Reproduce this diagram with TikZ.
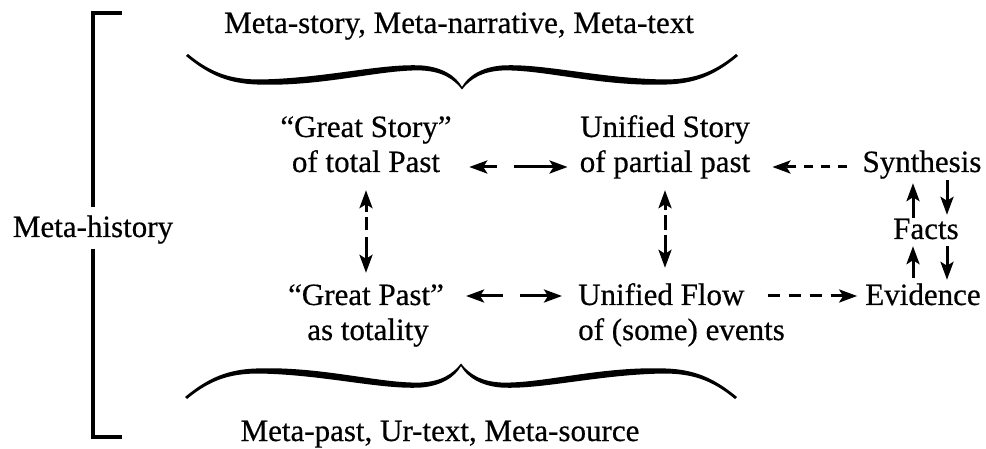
\documentclass[tikz,border=0pt]{standalone}
\usepackage{fontspec}
\setmainfont{Liberation Serif}[FakeBold=0.5]
\usetikzlibrary{arrows.meta}
\begin{document}
\begin{tikzpicture}[x=1pt,y=-1pt,
  lbl/.style={inner sep=0pt,text height=14pt,text depth=0pt,font=\fontsize{31}{35}\selectfont,anchor=base},
  lblw/.style={lbl,anchor=base west},
  darr/.style={line width=3pt},
  sarr/.style={line width=3pt},
  >={Stealth[length=18pt,width=13pt,inset=4pt]},
  halfbrace/.pic={\fill (-274,-34) .. controls (-250,-14) and (-230,-9) .. (-205,-8.5) .. controls (-140,-9) and (-80,-25) .. (-40,-22.5) .. controls (-20,-21) and (-6,-12) .. (0,-1) -- (0,1.5) .. controls (-8,-9) and (-20,-16.5) .. (-40,-17.5) .. controls (-80,-19) and (-140,-1) .. (-205,-3.5) .. controls (-232,-4.5) and (-252,-12) .. (-276,-32) -- cycle;}
]
\useasboundingbox[fill=white] (0,0) rectangle (986,449);

% texts
\node[lbl] (top) at (459,33) {Meta-story, Meta-narrative, Meta-text};
\node[lbl] (bot) at (440,441) {Meta-past, Ur-text, Meta-source};
\node[lbl] (MH) at (93,237) {Meta-history};
\node[lbl] (GS1) at (366,137) {“Great Story”};
\node[lbl] (GS2) at (366,172) {of total Past};
\node[lbl] (UP1) at (665,137) {Unified Story};
\node[lbl] (UP2) at (665,172) {of partial past};
\node[lbl] (Syn) at (922,172) {Synthesis};
\node[lbl] (Facts) at (926,239) {Facts};
\node[lbl] (Evid) at (923,305) {Evidence};
\node[lbl] (GP1) at (366,305) {“Great Past”};
\node[lbl] (GP2) at (368,340) {as totality};
\node[lblw] (UF1) at (578,305) {Unified Flow};
\node[lblw] (UF2) at (578,340) {of (some) events};

% bracket
\draw[line width=4pt] (122,13) -- (93,13) -- (93,207);
\draw[line width=4pt] (93,249) -- (93,437) -- (122,437);

% braces
\pic at (462,88) {halfbrace};
\pic[xscale=-1] at (462,88) {halfbrace};
\pic[yscale=-1] at (461,365) {halfbrace};
\pic[xscale=-1,yscale=-1] at (461,365) {halfbrace};

% horizontal dashed connectors
\draw[darr,<->,dash pattern=on 15pt off 17pt on 80pt,shorten <=29pt,shorten >=12pt]
  ([yshift=-2pt]GS2.east) -- ([yshift=-2pt]UP2.west);
\draw[darr,<->,dash pattern=on 24pt off 17pt on 80pt,shorten <=22pt,shorten >=16pt]
  ([yshift=2pt]GP1.east) -- ([yshift=2pt]UF1.west);
\draw[darr,->,dash pattern=on 9pt off 8pt,shorten <=15pt,shorten >=22pt]
  ([yshift=-2pt]Syn.west) -- ([yshift=-2pt]UP2.east);
\draw[darr,->,dash pattern=on 12pt off 9pt,shorten <=23pt,shorten >=8pt]
  ([yshift=2pt]UF1.east) -- ([yshift=2pt]Evid.west);

% vertical dashed connectors
\draw[darr,<->,dash pattern=on 9pt off 5pt on 13pt off 7pt on 40pt,shorten <=18pt,shorten >=18pt]
  (GS2.south) -- (GS2.south |- GP1.north);
\draw[darr,<->,dash pattern=on 7pt off 5pt on 15pt off 5pt on 40pt,shorten <=18pt,shorten >=23pt]
  (UP2.south) -- (UP2.south |- UF1.north);

% facts arrows
\draw[sarr,->,shorten <=7pt,shorten >=11pt]
  ([xshift=-13pt]Facts.north) -- ([xshift=-13pt]Facts.north |- Syn.south);
\draw[sarr,->,shorten <=8pt,shorten >=10pt]
  ([xshift=21pt]Facts.north |- Syn.south) -- ([xshift=21pt]Facts.north);
\draw[sarr,->,shorten <=13pt,shorten >=7pt]
  ([xshift=-13pt]Facts.south |- Evid.north) -- ([xshift=-13pt]Facts.south);
\draw[sarr,->,shorten <=7pt,shorten >=11pt]
  ([xshift=21pt]Facts.south) -- ([xshift=21pt]Facts.south |- Evid.north);
\end{tikzpicture}
\end{document}
